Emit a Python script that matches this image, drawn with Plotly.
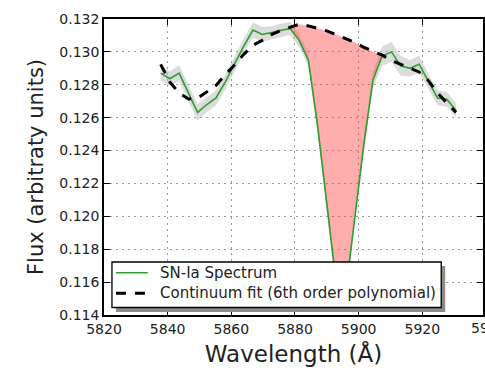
import plotly.graph_objects as go

# ---- data ----
wavelength = [5837.8, 5840.7, 5843.6, 5846.5, 5849.4, 5852.3, 5855.2, 5858.1, 5861.0,
              5863.9, 5866.8, 5869.7, 5872.6, 5875.5, 5878.4, 5881.3, 5884.2, 5887.1,
              5890.0, 5892.9, 5895.8, 5898.7, 5901.6, 5904.5, 5907.4, 5910.3, 5913.2,
              5916.1, 5919.0, 5921.9, 5924.8, 5927.7, 5930.6]
flux = [0.12871, 0.12837, 0.12871, 0.12752, 0.12632, 0.12680, 0.12720, 0.12817, 0.12925,
        0.13035, 0.13133, 0.13106, 0.13118, 0.13130, 0.13143, 0.13070, 0.12950, 0.12550,
        0.12080, 0.11600, 0.11520, 0.11990, 0.12433, 0.12830, 0.12975, 0.13000, 0.12915,
        0.12900, 0.12925, 0.12820, 0.12720, 0.12712, 0.12643]
flux_err = [0.00045, 0.00045, 0.00050, 0.00045, 0.00050, 0.00045, 0.00045, 0.00045, 0.00045,
            0.00045, 0.00045, 0.00045, 0.00040, 0.00040, 0.00040, 0.00040, 0.00040, 0.00040,
            0.00040, 0.00040, 0.00040, 0.00040, 0.00040, 0.00050, 0.00060, 0.00060, 0.00060,
            0.00050, 0.00050, 0.00045, 0.00045, 0.00045, 0.00045]
continuum = [0.12924, 0.12816, 0.12750, 0.12714, 0.12718, 0.12755, 0.12796, 0.12862, 0.12920,
             0.12985, 0.13040, 0.13070, 0.13105, 0.13130, 0.13150, 0.13168, 0.13158, 0.13145,
             0.13128, 0.13106, 0.13083, 0.13058, 0.13028, 0.13003, 0.12980, 0.12948, 0.12925,
             0.12905, 0.12878, 0.12825, 0.12750, 0.12690, 0.12632]
feature_start, feature_end = 5878.4, 5907.4

series_names = ["SN-Ia Spectrum", "Continuum fit (6th order polynomial)"]
x_ticks = [5820, 5840, 5860, 5880, 5900, 5920]
clipped_x_tick = 5940
y_ticks = [0.114, 0.116, 0.118, 0.120, 0.122, 0.124, 0.126, 0.128, 0.130, 0.132]

W, H = 485, 371
ML, MR, MT, MB = 104, 0, 19, 56
px_per_A = 3.2
x_range = [5820, 5820 + (W - ML - MR) / px_per_A]
y_range = [0.114, 0.132]

FONT = "DejaVu Sans"
GREEN = "#2e9e2e"
TXT = "#222222"

fig = go.Figure()

# grey uncertainty band
upper = [f + e for f, e in zip(flux, flux_err)]
lower = [f - e for f, e in zip(flux, flux_err)]
fig.add_trace(go.Scatter(x=wavelength + wavelength[::-1], y=upper + lower[::-1],
                         fill="toself", fillcolor="rgba(185,185,185,0.5)",
                         line=dict(width=0), mode="lines", showlegend=False, hoverinfo="skip"))

# red absorption fill
sel = [i for i, w in enumerate(wavelength) if feature_start <= w <= feature_end]
fx = [wavelength[i] for i in sel]
fig.add_trace(go.Scatter(x=fx + fx[::-1],
                         y=[continuum[i] for i in sel] + [flux[i] for i in sel][::-1],
                         fill="toself", fillcolor="rgba(255,60,60,0.42)",
                         line=dict(width=0), mode="lines", showlegend=False, hoverinfo="skip"))

DASH = "10px,9px"
fig.add_trace(go.Scatter(x=wavelength, y=flux, mode="lines", name=series_names[0],
                         line=dict(color=GREEN, width=1.6), showlegend=False))
fig.add_trace(go.Scatter(x=wavelength, y=continuum, mode="lines", name=series_names[1],
                         line=dict(color="black", width=3, dash=DASH), showlegend=False))

# ---- hand-built legend (matplotlib-style with shadow) ----
pw, ph = W - ML - MR, H - MT - MB
def px2paper(x, y):
    return (x - ML) / pw, (H - MB - y) / ph

def prect(x0, y0, x1, y1, **kw):
    a0, b0 = px2paper(x0, y1)
    a1, b1 = px2paper(x1, y0)
    fig.add_shape(type="rect", xref="paper", yref="paper", x0=a0, y0=b0, x1=a1, y1=b1,
                  layer="above", **kw)

prect(116, 266, 447, 312, fillcolor="#8c8c8c", line=dict(width=0))
prect(112, 262, 443, 307.5, fillcolor="white", line=dict(color="black", width=1.3))

rows_y = [272.7, 293.3]
styles = [dict(color=GREEN, width=1.6), dict(color="black", width=3, dash=DASH)]
for ry, st, name in zip(rows_y, styles, series_names):
    a0, b = px2paper(116, ry)
    a1, _ = px2paper(148, ry)
    fig.add_shape(type="line", xref="paper", yref="paper", x0=a0, y0=b, x1=a1, y1=b,
                  layer="above", line=st)
    tx, _ = px2paper(158.5, ry)
    fig.add_annotation(x=tx, y=b, xref="paper", yref="paper", xanchor="left", yanchor="middle",
                       text=name, showarrow=False, font=dict(family=FONT, size=15, color=TXT))

axis_common = dict(showline=True, linecolor="black", linewidth=1.5, mirror="allticks",
                   ticks="inside", ticklen=6, tickwidth=1, tickcolor="black",
                   showgrid=True, gridcolor="#9a9a9a", gridwidth=1, griddash="2px,4px",
                   zeroline=False, tickfont=dict(family=FONT, size=14, color=TXT))

fig.update_layout(
    width=W, height=H,
    margin=dict(l=ML, r=MR, t=MT, b=MB),
    paper_bgcolor="white", plot_bgcolor="white",
    font=dict(family=FONT, color=TXT),
    xaxis=dict(range=x_range, tickvals=x_ticks, ticktext=[str(t) for t in x_ticks],
               title=dict(text="Wavelength (Å)", font=dict(family=FONT, size=23), standoff=10),
               **axis_common),
    yaxis=dict(range=y_range, tickvals=y_ticks, ticktext=[f"{t:.3f}" for t in y_ticks],
               title=dict(text="Flux (arbitraty units)", font=dict(family=FONT, size=21), standoff=10),
               **axis_common),
    showlegend=False,
)

# partially visible tick label at the clipped right edge (centre lies just outside the page)
label_left_px = ML + (clipped_x_tick - x_range[0]) * px_per_A - 17.5
cx, _ = px2paper(label_left_px, 0)
fig.add_annotation(x=cx, y=0, xref="paper", yref="paper", xanchor="left", yanchor="top",
                   text=str(clipped_x_tick), showarrow=False, yshift=-3,
                   font=dict(family=FONT, size=14, color=TXT))

fig.write_html("out.html")
